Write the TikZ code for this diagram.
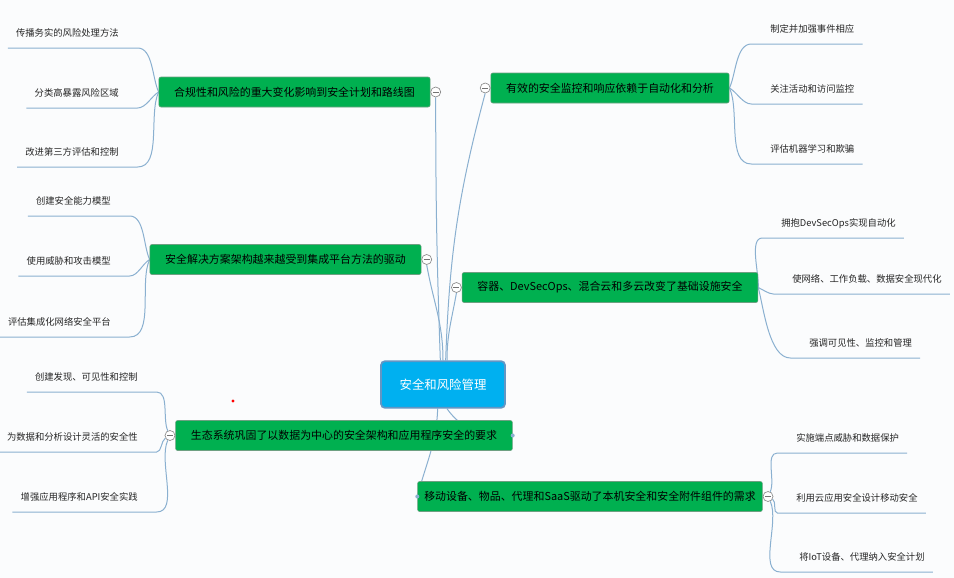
\documentclass[tikz,border=0pt]{standalone}
\usepackage{fontspec}
\setmainfont{Noto Sans CJK SC}
\usepackage{xcolor}
\usepackage{tikz}

\definecolor{rootblue}{RGB}{0,176,240}
\definecolor{rootedge}{RGB}{98,150,196}
\definecolor{topicgreen}{RGB}{0,176,80}
\definecolor{topicedge}{RGB}{110,160,130}
\definecolor{linkblue}{RGB}{138,176,208}
\definecolor{canvas}{RGB}{251,252,253}

\pgfdeclarelayer{bg}
\pgfsetlayers{bg,main}

\begin{document}
\begin{tikzpicture}[
    x=0.75pt, y=-0.75pt,
    root/.style={rectangle, draw=rootedge, line width=1.3pt, fill=rootblue, rounded corners=3pt, minimum width=93pt, minimum height=35pt, text=white, font=\fontsize{9.3}{11}\selectfont},
    topic/.style={rectangle, draw=topicedge, line width=0.4pt, fill=topicgreen, rounded corners=1.5pt, minimum height=22.5pt, inner xsep=11.5pt, font=\fontsize{8.2}{10}\selectfont},
    leaf/.style={inner xsep=6pt, inner ysep=7pt, text height=6pt, text depth=1.5pt, text=black!85, font=\fontsize{7}{8}\selectfont},
    fold/.style={circle, draw=black!45, fill=white, line width=0.5pt, minimum size=7.5pt, inner sep=0pt,
        path picture={\draw[black!55, line width=0.5pt] ([xshift=1.5pt]path picture bounding box.west) -- ([xshift=-1.5pt]path picture bounding box.east);}},
    dot/.style={circle, fill=linkblue, minimum size=3pt, inner sep=0pt},
    link/.style={draw=linkblue, line width=0.75pt},
]
    \useasboundingbox (0,0) rectangle (954,578);

    % central topic and main branches
    \node[root] (root) at (443,384.5) {安全和风险管理};
    \node[topic] (b1) at (294.5,92) {合规性和风险的重大变化影响到安全计划和路线图};
    \node[topic] (b2) at (610,88) {有效的安全监控和响应依赖于自动化和分析};
    \node[topic] (b3) at (285.5,259.5) {安全解决方案架构越来越受到集成平台方法的驱动};
    \node[topic] (b4) at (610,287.5) {容器、DevSecOps、混合云和多云改变了基础设施安全};
    \node[topic] (b5) at (344,435.5) {生态系统巩固了以数据为中心的安全架构和应用程序安全的要求};
    \node[topic, inner xsep=5pt] (b6) at (590,496.5) {移动设备、物品、代理和SaaS驱动了本机安全和安全附件组件的需求};

    \node[fold] (f1) at ([xshift=4pt]b1.east) {};
    \node[fold] (f2) at ([xshift=-4pt]b2.west) {};
    \node[fold] (f3) at ([xshift=4pt]b3.east) {};
    \node[fold] (f4) at ([xshift=-4pt]b4.west) {};
    \node[fold] (f5) at ([xshift=-4pt]b5.west) {};
    \node[fold] (f6) at ([xshift=4pt]b6.east) {};
    \node[dot] (d5) at (b5.east) {};
    \node[dot] (d6) at (b6.west) {};

    % leaves
    \node[leaf, anchor=south east] (l11) at (127,48) {传播务实的风险处理方法};
    \node[leaf, anchor=south east] (l12) at (127,108) {分类高暴露风险区域};
    \node[leaf, anchor=south east] (l13) at (127,167) {改进第三方评估和控制};

    \node[leaf, anchor=south west] (l21) at (762,44) {制定并加强事件相应};
    \node[leaf, anchor=south west] (l22) at (762,104) {关注活动和访问监控};
    \node[leaf, anchor=south west] (l23) at (762,164) {评估机器学习和欺骗};

    \node[leaf, anchor=south east] (l31) at (119,216) {创建安全能力模型};
    \node[leaf, anchor=south east] (l32) at (119,276) {使用威胁和攻击模型};
    \node[leaf, anchor=south east] (l33) at (119,337) {评估集成化网络安全平台};

    \node[leaf, anchor=south west] (l41) at (773,238) {拥抱DevSecOps实现自动化};
    \node[leaf, anchor=south west] (l42) at (784,294) {使网络、工作负载、数据安全现代化};
    \node[leaf, anchor=south west] (l43) at (801,358) {强调可见性、监控和管理};

    \node[leaf, anchor=south east] (l51) at (146,392) {创建发现、可见性和控制};
    \node[leaf, anchor=south east] (l52) at (146,452) {为数据和分析设计灵活的安全性};
    \node[leaf, anchor=south east] (l53) at (146,512) {增强应用程序和API安全实践};

    \node[leaf, anchor=south west] (l61) at (788,453) {实施端点威胁和数据保护};
    \node[leaf, anchor=south west] (l62) at (788,513) {利用云应用安全设计移动安全};
    \node[leaf, anchor=south west] (l63) at (791,572) {将IoT设备、代理纳入安全计划};

    \fill[red] (233,401) circle (1.3pt);

    \begin{pgfonlayer}{bg}
        \fill[canvas] (0,0) rectangle (954,578);

        % root to branches
        \draw[link] ([xshift=-2pt]root.north) to[out=92,in=-90] (f1.south);
        \draw[link] ([xshift=2pt]root.north) to[out=88,in=-105] (f2.south);
        \draw[link] (f3.south) to[out=-80,in=90] (root.north);
        \draw[link] (f4.south) to[out=-100,in=90] ([xshift=3pt]root.north);
        \draw[link] ([xshift=3pt]root.south) to[out=-55,in=180] (d5);
        \draw[link] ([xshift=-4pt]root.south) to[out=-92,in=75] (d6);

        % branches to leaves
        \foreach \leaf/\ang in {l11/115,l12/210,l13/245}
            \draw[link] (b1.west) to[out=\ang,in=0,looseness=0.8] ([xshift=8pt]\leaf.south east) -- (\leaf.south west);
        \foreach \leaf/\ang in {l21/65,l22/-30,l23/-65}
            \draw[link] (b2.east) to[out=\ang,in=180,looseness=0.8] ([xshift=-8pt]\leaf.south west) -- (\leaf.south east);
        \foreach \leaf/\ang in {l31/115,l32/210,l33/245}
            \draw[link] (b3.west) to[out=\ang,in=0,looseness=0.8] ([xshift=8pt]\leaf.south east) -- (\leaf.south west);
        \foreach \leaf/\ang in {l41/85,l42/-25,l43/-75}
            \draw[link] (b4.east) to[out=\ang,in=180,looseness=0.7] ([xshift=-8pt]\leaf.south west) -- (\leaf.south east);
        \foreach \leaf/\ang in {l51/115,l52/210,l53/245}
            \draw[link] (f5) to[out=\ang,in=0,looseness=0.8] ([xshift=8pt]\leaf.south east) -- (\leaf.south west);
        \foreach \leaf/\ang in {l61/65,l62/-30,l63/-65}
            \draw[link] (f6) to[out=\ang,in=180,looseness=0.8] ([xshift=-8pt]\leaf.south west) -- (\leaf.south east);
    \end{pgfonlayer}
\end{tikzpicture}
\end{document}
